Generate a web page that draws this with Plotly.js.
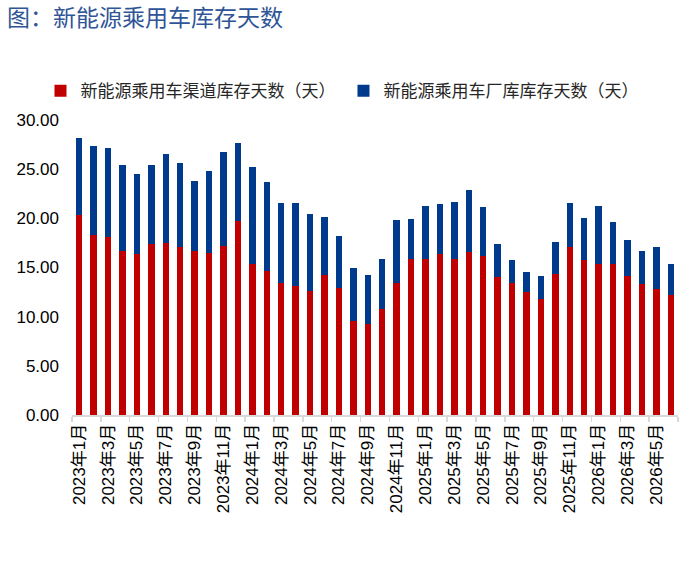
<!DOCTYPE html>
<html>
<head>
<meta charset="utf-8">
<script src="https://cdn.plot.ly/plotly-3.0.1.min.js"></script>
<style>html,body{margin:0;padding:0;background:#fff;}#chart{width:700px;height:576px;}</style>
</head>
<body>
<div id="chart"></div>
<script>
var months = [
  "2023年1月","2023年2月","2023年3月","2023年4月","2023年5月","2023年6月",
  "2023年7月","2023年8月","2023年9月","2023年10月","2023年11月","2023年12月",
  "2024年1月","2024年2月","2024年3月","2024年4月","2024年5月","2024年6月",
  "2024年7月","2024年8月","2024年9月","2024年10月","2024年11月","2024年12月",
  "2025年1月","2025年2月","2025年3月","2025年4月","2025年5月","2025年6月",
  "2025年7月","2025年8月","2025年9月","2025年10月","2025年11月","2025年12月",
  "2026年1月","2026年2月","2026年3月","2026年4月","2026年5月","2026年6月"
];
var channelDays = [
  20.3,18.3,18.1,16.7,16.4,17.4,17.5,17.1,16.7,16.5,17.2,19.7,
  15.4,14.6,13.4,13.1,12.6,14.2,12.9,9.6,9.3,10.8,13.4,15.9,
  15.9,16.4,15.9,16.6,16.2,14.0,13.4,12.5,11.8,14.3,17.1,15.8,
  15.4,15.4,14.1,13.3,12.8,12.2
];
var factoryDays = [
  7.9,9.1,9.1,8.7,8.1,8.0,9.0,8.5,7.1,8.3,9.5,8.0,
  9.8,9.1,8.2,8.5,7.8,5.9,5.3,5.3,4.9,5.1,6.4,4.0,
  5.4,5.1,5.8,6.3,5.0,3.4,2.4,2.0,2.3,3.3,4.5,4.2,
  5.9,4.2,3.7,3.4,4.3,3.2
];
var seriesNames = ["新能源乘用车渠道库存天数（天）","新能源乘用车厂库库存天数（天）"];
var chartTitle = "图：新能源乘用车库存天数";

var cjk = "Noto Sans CJK SC";
var latin = "Liberation Sans, Arial, Noto Sans CJK SC, sans-serif";

var traces = [
  {type:"bar", name:seriesNames[0], x:months, y:channelDays,
   marker:{color:"#C00000", line:{width:0}}, hoverinfo:"x+y"},
  {type:"bar", name:seriesNames[1], x:months, y:factoryDays,
   marker:{color:"#003A8C", line:{width:0}}, hoverinfo:"x+y"}
];

var layout = {
  width:700, height:576,
  paper_bgcolor:"#fff", plot_bgcolor:"#fff",
  barmode:"stack", bargap:0.55,
  margin:{l:72, r:22, t:120, b:161, pad:0},
  title:{text:chartTitle, x:0.01, xanchor:"left", y:0.968, yanchor:"middle",
         font:{family:cjk, size:23, color:"#2F5597"}},
  showlegend:true,
  legend:{orientation:"h", x:-0.052, xanchor:"left", y:1.098, yanchor:"middle",
          font:{family:cjk, size:17, color:"#262626"},
          entrywidth:258, entrywidthmode:"pixels", itemwidth:30,
          traceorder:"normal", bgcolor:"rgba(0,0,0,0)"},
  xaxis:{type:"category", tickmode:"linear", tick0:0, dtick:2, tickson:"boundaries",
         tickangle:-90, ticks:"outside", ticklen:5, tickcolor:"#D9D9D9", tickwidth:1.5,
         showline:true, linecolor:"#D9D9D9", linewidth:2, showgrid:false, zeroline:false,
         tickfont:{family:latin, size:17, color:"#000"}, fixedrange:true},
  yaxis:{range:[0,30], dtick:5, tick0:0, tickformat:".2f", showgrid:false, zeroline:false,
         showline:false, ticks:"", ticklabelstandoff:12,
         tickfont:{family:latin, size:17, color:"#000"}, fixedrange:true}
};

Plotly.newPlot("chart", traces, layout, {displayModeBar:false, staticPlot:true});
</script>
</body>
</html>
